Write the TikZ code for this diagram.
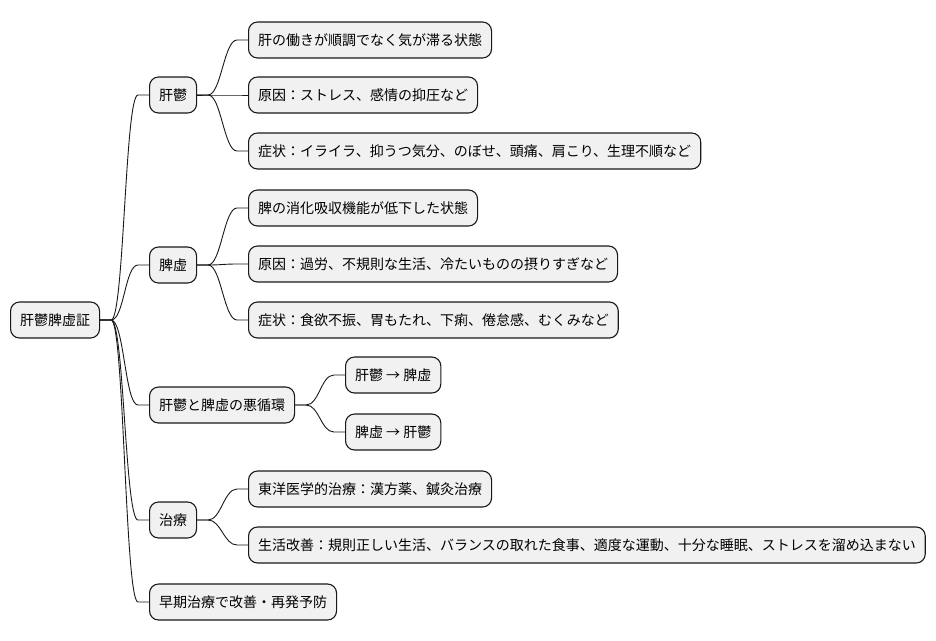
\documentclass[tikz,border=0pt]{standalone}
\usepackage{fontspec}
\setmainfont{Noto Sans CJK JP}
\begin{document}
\begin{tikzpicture}[x=1pt,y=-1pt,
  mm/.style={draw=black!90,fill=black!5.5,line width=1.1pt,rounded corners=9pt,
    minimum height=36pt,inner xsep=9.5pt,inner ysep=0pt,anchor=west,
    font=\fontsize{14}{16}\selectfont},
  conn/.style={draw=black!90,line width=0.9pt}]
\useasboundingbox (0,0) rectangle (936,640);
\node[mm] (root) at (10,320) {肝鬱脾虚証};
\node[mm] (k) at (149,95) {肝鬱};
\node[mm] (k1) at (248,40) {肝の働きが順調でなく気が滞る状態};
\node[mm] (k2) at (248,95) {原因：ストレス、感情の抑圧など};
\node[mm] (k3) at (248,151) {症状：イライラ、抑うつ気分、のぼせ、頭痛、肩こり、生理不順など};
\node[mm] (h) at (149,265) {脾虚};
\node[mm] (h1) at (248,208) {脾の消化吸収機能が低下した状態};
\node[mm] (h2) at (248,264) {原因：過労、不規則な生活、冷たいものの摂りすぎなど};
\node[mm] (h3) at (248,320) {症状：食欲不振、胃もたれ、下痢、倦怠感、むくみなど};
\node[mm] (a) at (149,405) {肝鬱と脾虚の悪循環};
\node[mm] (a1) at (345,375) {肝鬱 → 脾虚};
\node[mm] (a2) at (345,432) {脾虚 → 肝鬱};
\node[mm] (t) at (149,520) {治療};
\node[mm] (t1) at (248,489) {東洋医学的治療：漢方薬、鍼灸治療};
\node[mm] (t2) at (248,545) {生活改善：規則正しい生活、バランスの取れた食事、適度な運動、十分な睡眠、ストレスを溜め込まない};
\node[mm] (e) at (149,602) {早期治療で改善・再発予防};
\newcommand\linkto[2]{\draw[conn] (#1.east) -- ++(11,0) .. controls +(13,0) and +(-13,0) .. ([xshift=-11pt]#2.west) -- (#2.west);}
\foreach \c in {k,h,a,t,e} {\linkto{root}{\c}}
\foreach \c in {k1,k2,k3} {\linkto{k}{\c}}
\foreach \c in {h1,h2,h3} {\linkto{h}{\c}}
\foreach \c in {a1,a2} {\linkto{a}{\c}}
\foreach \c in {t1,t2} {\linkto{t}{\c}}
\end{tikzpicture}
\end{document}
